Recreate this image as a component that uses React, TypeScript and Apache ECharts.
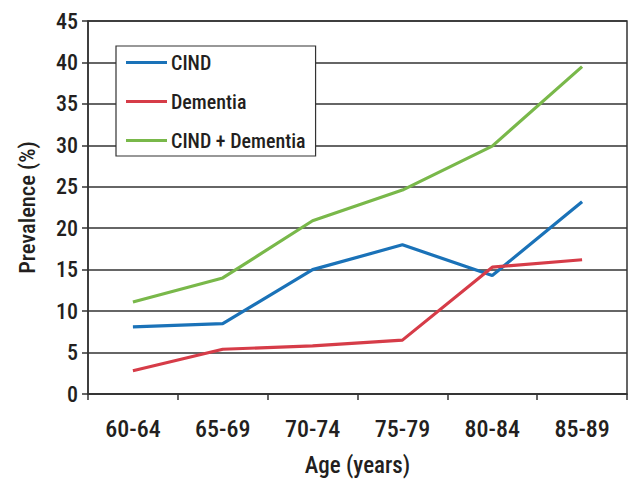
import React, { useEffect, useRef } from "react";
import * as echarts from "echarts";

const categories = ["60-64", "65-69", "70-74", "75-79", "80-84", "85-89"];
const cind = [8.1, 8.5, 15.0, 18.0, 14.3, 23.2];
const dementia = [2.8, 5.4, 5.8, 6.5, 15.3, 16.2];
const cindDementia = [11.1, 14.0, 20.9, 24.6, 29.9, 39.5];
const seriesNames = ["CIND", "Dementia", "CIND + Dementia"];
const colors = ["#1a72b8", "#d63c48", "#79b84a"];

const FONT = "'Roboto Condensed', 'DejaVu Sans Condensed', sans-serif";
const TEXT = "#231f20";

export default function App() {
  const ref = useRef<HTMLDivElement>(null);
  useEffect(() => {
    const chart = echarts.init(ref.current!, undefined, { renderer: "svg" });
    const data = [cind, dementia, cindDementia];
    chart.setOption({
      animation: false,
      textStyle: { fontFamily: FONT, color: TEXT },
      grid: {
        left: 88,
        right: 7,
        top: 21,
        bottom: 86,
        show: true,
        borderColor: "#333",
        borderWidth: 1.5,
        backgroundColor: "transparent",
      },
      legend: {
        show: true,
        orient: "vertical",
        left: 116,
        top: 46,
        padding: [6, 10, 5, 10],
        itemGap: 18,
        itemWidth: 41,
        itemHeight: 21,
        backgroundColor: "#fff",
        borderColor: "#333",
        borderWidth: 1.2,
        borderRadius: 0,
        icon: "path://M0,9 L41,9 L41,12 L0,12 Z",
        textStyle: { fontFamily: FONT, fontSize: 20, fontWeight: 500, color: TEXT, lineHeight: 21, padding: [0, 0, 0, -1] },
        data: seriesNames,
      },
      xAxis: {
        type: "category",
        data: categories,
        boundaryGap: true,
        axisLine: { lineStyle: { color: "#333", width: 1.5 } },
        axisTick: { show: true, length: 6, lineStyle: { color: "#333", width: 1.5 } },
        axisLabel: { fontFamily: FONT, fontSize: 24, fontWeight: 500, color: TEXT, margin: 23 },
        name: "Age (years)",
        nameLocation: "middle",
        nameGap: 60,
        nameTextStyle: { fontFamily: FONT, fontSize: 23, fontWeight: 500, color: TEXT },
      },
      yAxis: {
        type: "value",
        min: 0,
        max: 45,
        interval: 5,
        axisLine: { show: true, lineStyle: { color: "#333", width: 1.5 } },
        axisTick: { show: true, length: 6, lineStyle: { color: "#333", width: 1.5 } },
        splitLine: { show: true, lineStyle: { color: "#333", width: 1.5 } },
        axisLabel: { fontFamily: FONT, fontSize: 22, fontWeight: 500, color: TEXT, margin: 10 },
        name: "Prevalence (%)",
        nameLocation: "middle",
        nameGap: 50,
        nameRotate: 90,
        nameTextStyle: { fontFamily: FONT, fontSize: 22.5, fontWeight: 500, color: TEXT },
      },
      series: seriesNames.map((n, i) => ({
        name: n,
        type: "line",
        data: data[i],
        symbol: "none",
        color: colors[i],
        lineStyle: { color: colors[i], width: 3.2 },
        z: 3,
      })),
    });
    return () => chart.dispose();
  }, []);
  return <div ref={ref} style={{ width: 634, height: 482, position: "absolute", left: 0, top: 0 }} />;
}
